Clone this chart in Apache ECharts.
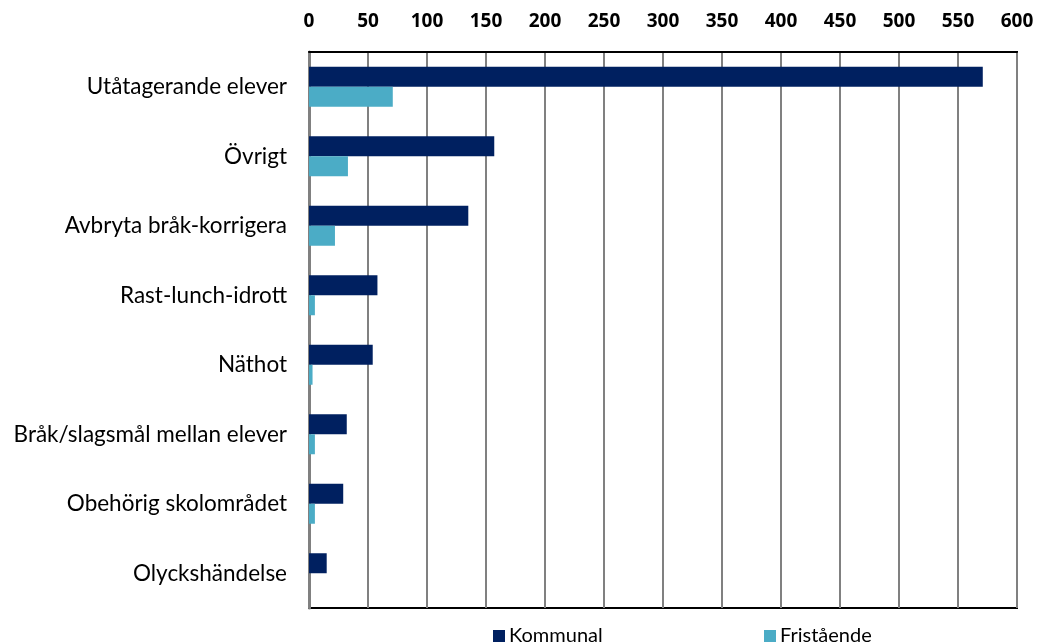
<!DOCTYPE html>
<html>
<head>
<meta charset="utf-8">
<script src="https://cdn.jsdelivr.net/npm/echarts@6/dist/echarts.min.js"></script>
<style>
  html, body { margin: 0; padding: 0; background: #fff; }
  #chart { width: 1039px; height: 644px; }
</style>
</head>
<body>
<div id="chart"></div>
<script>
// kategorier, uppifrån och ned
const categories = [
  "Utåtagerande elever",
  "Övrigt",
  "Avbryta bråk-korrigera",
  "Rast-lunch-idrott",
  "Näthot",
  "Bråk/slagsmål mellan elever",
  "Obehörig skolområdet",
  "Olyckshändelse"
];
const kommunal = [571, 157, 135, 58, 54, 32, 29, 15];
const fristaende = [71, 33, 22, 5, 3, 5, 5, 0];
const xTicks = { min: 0, max: 600, interval: 50 };

const font = "Lato, sans-serif";
const chart = echarts.init(document.getElementById("chart"));

chart.setOption({
  animation: false,
  textStyle: { fontFamily: font },
  grid: {
    left: 309,
    right: 22,
    top: 52,
    bottom: 36,
    show: true,
    borderColor: "#000",
    borderWidth: 2,
    containLabel: false
  },
  legend: [
    {
      data: ["Kommunal"],
      left: 488,
      top: 621,
      icon: "rect",
      itemWidth: 12,
      itemHeight: 12,
      textStyle: { fontSize: 20, color: "#000", fontFamily: font, padding: [0, 0, 0, -1] }
    },
    {
      data: ["Fristående"],
      left: 759,
      top: 621,
      icon: "rect",
      itemWidth: 12,
      itemHeight: 12,
      textStyle: { fontSize: 20, color: "#000", fontFamily: font, padding: [0, 0, 0, -1] }
    }
  ],
  xAxis: {
    type: "value",
    position: "top",
    min: xTicks.min,
    max: xTicks.max,
    interval: xTicks.interval,
    axisLine: { show: true, lineStyle: { color: "#000", width: 2 } },
    axisTick: { show: false },
    axisLabel: {
      color: "#000",
      fontSize: 19,
      fontWeight: "bold",
      fontFamily: "'Noto Sans', sans-serif",
      margin: 21
    },
    splitLine: { show: true, lineStyle: { color: "#808080", width: 2 } }
  },
  yAxis: {
    type: "category",
    data: categories,
    inverse: true,
    axisLine: { show: true, lineStyle: { color: "#808080", width: 3 } },
    axisTick: { show: false },
    axisLabel: { color: "#000", fontSize: 22.5, fontFamily: font, margin: 22 }
  },
  series: [
    {
      name: "Kommunal",
      type: "bar",
      data: kommunal,
      barWidth: 20,
      barGap: "0%",
      itemStyle: { color: "#002060" }
    },
    {
      name: "Fristående",
      type: "bar",
      data: fristaende,
      barWidth: 20,
      barGap: "0%",
      itemStyle: { color: "#4BACC6" }
    }
  ]
});
</script>
</body>
</html>
